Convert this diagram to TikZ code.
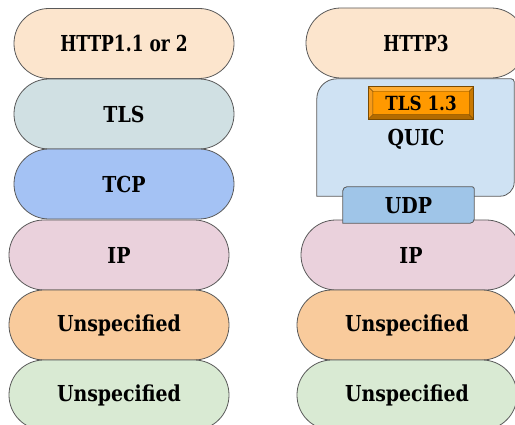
\documentclass[tikz,border=0pt]{standalone}
\usepackage{fontspec}
\usepackage{graphicx}
\setmainfont{DejaVu Serif}[FakeStretch=0.86]
\usetikzlibrary{calc}

\definecolor{linegray}{HTML}{595959}
\definecolor{httpfill}{HTML}{FCE5CD}
\definecolor{tlsfill}{HTML}{D0E0E3}
\definecolor{tcpfill}{HTML}{A4C2F4}
\definecolor{ipfill}{HTML}{EAD1DC}
\definecolor{unsporange}{HTML}{F9CB9C}
\definecolor{unspgreen}{HTML}{D9EAD3}
\definecolor{quicfill}{HTML}{CFE2F3}
\definecolor{udpfill}{HTML}{9FC5E8}
\definecolor{tlsorange}{HTML}{FF9900}
\definecolor{bevellight}{HTML}{FFAD33}
\definecolor{bevelleft}{HTML}{F59A1A}
\definecolor{beveldark}{HTML}{B36B00}
\definecolor{bevelright}{HTML}{C97800}
\definecolor{beveledge}{HTML}{7A4A00}

\newcommand{\layerfont}{\fontsize{22}{26}\selectfont\bfseries}
\newcommand{\smallfont}{\fontsize{19.5}{23}\selectfont\bfseries}
% labels with digits are set slightly narrower
\newcommand{\narrowtext}[1]{\scalebox{0.9}[1]{#1}}

\tikzset{
  layer/.style={rectangle, rounded corners=34.9pt, minimum width=220pt,
    minimum height=70pt, inner sep=0pt, draw=linegray, line width=0.8pt,
    font=\layerfont},
  plainbox/.style={rectangle, inner sep=0pt, font=\layerfont},
  outline/.style={draw=linegray, line width=0.8pt},
}

\begin{document}
\begin{tikzpicture}[x=1pt,y=1pt]
\useasboundingbox (0,0) rectangle (515,-425);
\clip (0,0) rectangle (515,-425);

% left stack: HTTP over TLS over TCP
\node[layer, fill=httpfill] (lhttp) at (124,-43.5) {\narrowtext{HTTP1.1 or 2}};
\node[layer, fill=tlsfill] (ltls) at (124,-114) {TLS};
\node[layer, fill=tcpfill] (ltcp) at (124,-184) {TCP};
\node[layer, fill=ipfill] (lip) at (119,-255) {IP};
\node[layer, fill=unsporange] (lunsa) at (119,-325) {Unspecified};
\node[layer, fill=unspgreen] (lunsb) at (119,-395) {Unspecified};

% right stack: HTTP3 over QUIC over UDP
\node[layer, fill=httpfill] (rhttp) at (416,-43) {\narrowtext{HTTP3}};

% QUIC container with mixed corner radii
\node[plainbox, minimum width=197pt, minimum height=117pt] (quicbox) at (415.5,-137.5) {};
\draw[outline, fill=quicfill]
  (quicbox.south west) -- ([yshift=-20pt]quicbox.north west)
  arc[start angle=180, end angle=90, radius=20pt]
  -- ([xshift=-3pt]quicbox.north east)
  arc[start angle=90, end angle=0, radius=3pt]
  -- ([yshift=14pt]quicbox.south east)
  arc[start angle=0, end angle=-90, radius=14pt]
  -- cycle;
\node[plainbox] (quic) at (416,-139) {QUIC};

\node[layer, fill=ipfill] (rip) at (411,-255) {IP};
\node[layer, fill=unsporange] (runsa) at (407,-325) {Unspecified};
\node[layer, fill=unspgreen] (runsb) at (407,-395) {Unspecified};

% UDP tab overlapping QUIC and IP
\node[plainbox, minimum width=131pt, minimum height=36pt] (udpbox) at (408.5,-205) {};
\draw[outline, fill=udpfill]
  (udpbox.south west) -- ([yshift=-4pt]udpbox.north west)
  arc[start angle=180, end angle=90, radius=4pt]
  -- ([xshift=-2pt]udpbox.north east)
  arc[start angle=90, end angle=0, radius=2pt]
  -- ([yshift=4pt]udpbox.south east)
  arc[start angle=0, end angle=-90, radius=4pt]
  -- cycle;
\node[plainbox] (udp) at (408.5,-205.5) {UDP};

% bevelled TLS 1.3 badge inside QUIC
\node[plainbox, minimum width=105pt, minimum height=32pt] (tlsbadge) at (421,-103) {};
\coordinate (bo1) at (tlsbadge.north west);
\coordinate (bo2) at (tlsbadge.north east);
\coordinate (bo3) at (tlsbadge.south east);
\coordinate (bo4) at (tlsbadge.south west);
\coordinate (bi1) at ($(bo1)+(4.5,-4.5)$);
\coordinate (bi2) at ($(bo2)+(-4.5,-4.5)$);
\coordinate (bi3) at ($(bo3)+(-4.5,4.5)$);
\coordinate (bi4) at ($(bo4)+(4.5,4.5)$);
\fill[bevellight] (bo1) -- (bo2) -- (bi2) -- (bi1) -- cycle;
\fill[bevelright] (bo2) -- (bo3) -- (bi3) -- (bi2) -- cycle;
\fill[beveldark] (bo3) -- (bo4) -- (bi4) -- (bi3) -- cycle;
\fill[bevelleft] (bo4) -- (bo1) -- (bi1) -- (bi4) -- cycle;
\fill[tlsorange] (bi1) rectangle (bi3);
\draw[beveledge, line width=0.6pt] (bo1) rectangle (bo3);
\draw[beveledge, line width=0.4pt] (bi1) rectangle (bi3)
  (bo1) -- (bi1) (bo2) -- (bi2) (bo3) -- (bi3) (bo4) -- (bi4);
\node[plainbox, font=\smallfont] (tls13) at (tlsbadge.center) {TLS 1.3};
\end{tikzpicture}
\end{document}
